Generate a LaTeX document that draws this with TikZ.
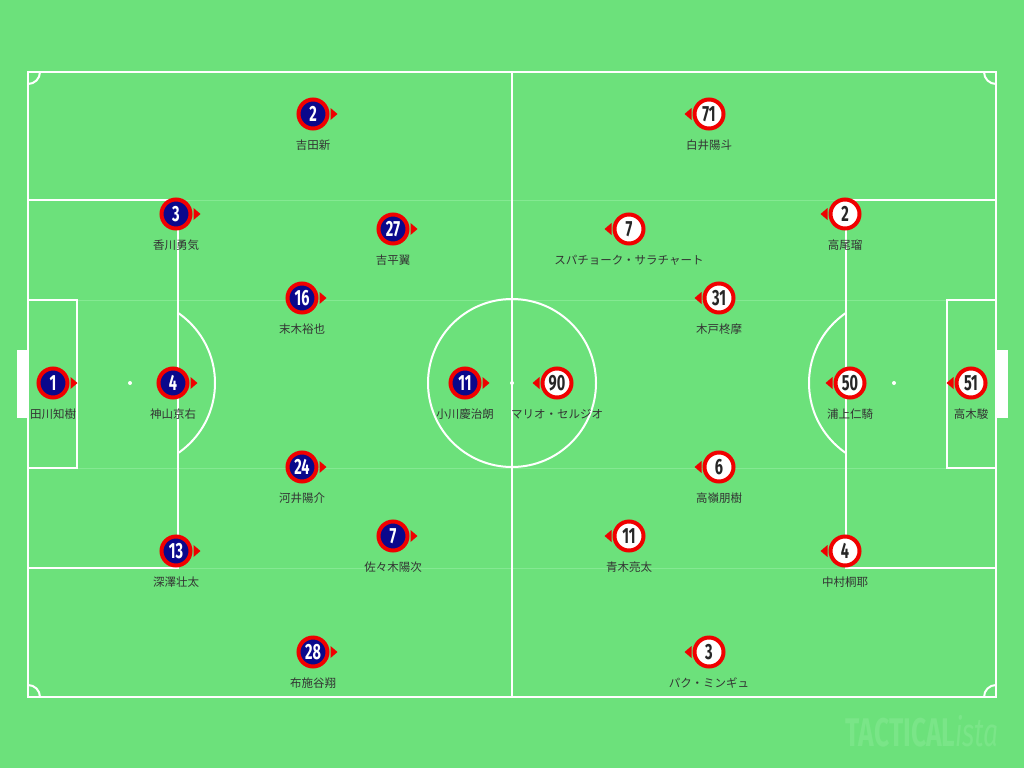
\documentclass[tikz,border=0pt]{standalone}
\usepackage{fontspec}
\newfontfamily\jpfont{Noto Sans CJK JP}
\newfontfamily\numfont[FakeStretch=0.66]{Fira Sans}
\usepackage{xcolor}
\usepackage{tikz}
\usetikzlibrary{calc}

\definecolor{pitchgreen}{RGB}{108,225,123}
\definecolor{zonegreen}{RGB}{132,233,146}
\definecolor{logogreen}{RGB}{122,229,136}
\definecolor{homenavy}{RGB}{10,8,140}
\definecolor{markred}{RGB}{240,0,0}

\tikzset{
  pitchline/.style={white, line width=2pt},
  zoneline/.style={zonegreen, line width=1pt},
  homeplayer/.style={circle, draw=markred, fill=homenavy, line width=4pt, minimum size=29pt, inner sep=0pt, text=white, font=\numfont\bfseries\fontsize{22}{22}\selectfont},
  awayplayer/.style={homeplayer, fill=white, text=black!85},
  playername/.style={inner sep=0pt, text=black!80, font=\jpfont\fontsize{11.5}{11.5}\selectfont},
}

\begin{document}
\begin{tikzpicture}[x=1pt,y=-1pt]
\fill[pitchgreen] (0,0) rectangle (1024,768);
\useasboundingbox (0,0) rectangle (1024,768);

% zones
\foreach \zy in {200,300,468,568}
  \draw[zoneline] (28,\zy) -- (996,\zy);

% pitch
\draw[pitchline] (28,72) rectangle (996,697);
\draw[pitchline] (512,72) -- (512,697);
\draw[pitchline] (512,383) circle[radius=84pt];
\fill[white] (512,383) circle[radius=2pt];
\draw[pitchline] (28,200) rectangle (178,568);
\draw[pitchline] (28,300) rectangle (77,468);
\fill[white] (17,350) rectangle (28,418);
\fill[white] (130,383) circle[radius=2pt];
\draw[pitchline] (846,200) rectangle (996,568);
\draw[pitchline] (947,300) rectangle (996,468);
\fill[white] (996,350) rectangle (1008,418);
\fill[white] (894,383) circle[radius=2pt];
\begin{scope}
  \clip (178,72) rectangle (512,697);
  \draw[pitchline] (130,383) circle[radius=85pt];
\end{scope}
\begin{scope}
  \clip (512,72) rectangle (846,697);
  \draw[pitchline] (894,383) circle[radius=85pt];
\end{scope}
% corners
\begin{scope}
  \clip (28,72) rectangle (996,697);
  \foreach \cx/\cy in {28/72, 28/697, 996/72, 996/697}
    \draw[pitchline] (\cx,\cy) circle[radius=12pt];
\end{scope}

% home side
\foreach \px/\py/\num/\nm [count=\i] in {
  53/383/1/田川知樹, 173/383/4/神山京右, 313/114/2/吉田新,
  176/214/3/香川勇気, 393/229/27/吉平翼, 302/298/16/末木裕也,
  465/383/11/小川慶治朗, 302/467/24/河井陽介, 176/551/13/深澤壮太,
  393/536/7/佐々木陽次, 313/652/28/布施谷翔}{
  \node[homeplayer] (h\i) at (\px,\py) {\num};
  \fill[markred] ($(h\i.east)+(1,-6)$) -- ++(0,12) -- ++(7,-6) -- cycle;
  \node[playername] (hname\i) at ($(h\i.center)+(0,31)$) {\nm};
}

% away side
\foreach \px/\py/\num/\nm [count=\i] in {
  971/383/51/高木駿, 850/383/50/浦上仁騎, 709/114/71/白井陽斗,
  845/214/2/高尾瑠, 629/229/7/スパチョーク・サラチャート, 719/298/31/木戸柊摩,
  557/383/90/マリオ・セルジオ, 719/467/6/高嶺朋樹, 845/551/4/中村桐耶,
  629/536/11/青木亮太, 709/652/3/パク・ミンギュ}{
  \node[awayplayer] (a\i) at (\px,\py) {\num};
  \fill[markred] ($(a\i.west)+(-1,-6)$) -- ++(0,12) -- ++(-7,-6) -- cycle;
  \node[playername] (aname\i) at ($(a\i.center)+(0,31)$) {\nm};
}

\node[anchor=east, inner sep=0pt, text=logogreen, font=\numfont\fontsize{40}{40}\selectfont] (logo) at (999,731) {\bfseries TACTICAL\mdseries\itshape ista};
\end{tikzpicture}
\end{document}
